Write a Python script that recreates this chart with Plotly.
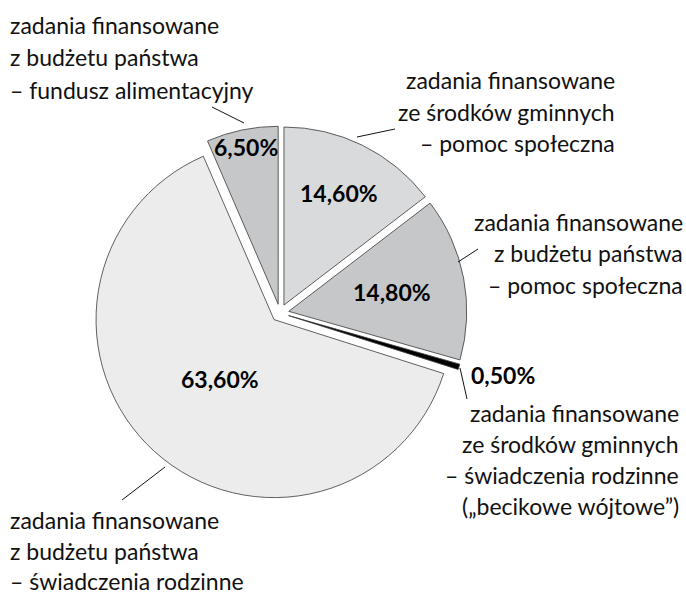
import math
import plotly.graph_objects as go

# ---- data ----
shares = [14.6, 14.8, 0.5, 63.6, 6.5]
pct_labels = ["14,60%", "14,80%", "0,50%", "63,60%", "6,50%"]
categories = [
    ["zadania finansowane", "ze środków gminnych", "– pomoc społeczna"],
    ["zadania finansowane", "z budżetu państwa", "– pomoc społeczna"],
    ["zadania finansowane", "ze środków gminnych", "– świadczenia rodzinne", "(„becikowe wójtowe”)"],
    ["zadania finansowane", "z budżetu państwa", "– świadczenia rodzinne"],
    ["zadania finansowane", "z budżetu państwa", "– fundusz alimentacyjny"],
]

# ---- style / layout ----
W, H = 686, 594
CX, CY, R = 280, 313, 178
PULL = 0.05
colors = ["#d9dadb", "#c6c7c9", "#000000", "#ebeceb", "#c6c7c9"]
FONT = "Lato"
LBL_SIZE = 23
PCT_SIZE = 23

half = R * (1 + PULL)
dom_x = [(CX - half) / W, (CX + half) / W]
dom_y = [1 - (CY + half) / H, 1 - (CY - half) / H]

def px(x, y):
    return x / W, 1 - y / H

fig = go.Figure(go.Pie(
    values=shares,
    labels=[" ".join(c) for c in categories],
    sort=False,
    direction="clockwise",
    rotation=0,
    pull=[PULL] * len(shares),
    marker=dict(colors=colors, line=dict(color="#3a3a3a", width=0.8)),
    textinfo="none",
    hoverinfo="label+percent",
    domain=dict(x=dom_x, y=dom_y),
    showlegend=False,
))

annotations = []
# percentage labels placed along each slice's mid-angle
radial_f = [0.75, 0.64, 1.11, 0.50, 0.95]
anchors = ["center", "center", "left", "center", "center"]
total = sum(shares)
acc = 0
for v, t, f, a in zip(shares, pct_labels, radial_f, anchors):
    mid = (acc + v / 2) / total * 2 * math.pi
    acc += v
    x = CX + f * R * math.sin(mid)
    y = CY - f * R * math.cos(mid)
    if a == "left":
        y += 5
    xx, yy = px(x, y)
    annotations.append(dict(x=xx, y=yy, xref="paper", yref="paper", text=f"<b>{t}</b>",
                            showarrow=False, xanchor=a, yanchor="middle",
                            font=dict(family=FONT, size=PCT_SIZE, color="#000000")))

# category labels (x, first line y, anchor, line step)
label_pos = [
    (617, 80, "right", 31.5),
    (685, 222, "right", 31.5),
    (681, 413, "right", 31.0),
    (8, 520, "left", 30.5),
    (8, 25, "left", 32.5),
]
for lines, (lx, ly, anc, step) in zip(categories, label_pos):
    for i, line in enumerate(lines):
        xx, yy = px(lx, ly + i * step)
        annotations.append(dict(x=xx, y=yy, xref="paper", yref="paper", text=line,
                                showarrow=False, xanchor=anc, yanchor="middle",
                                font=dict(family=FONT, size=LBL_SIZE, color="#111111")))

# leader lines
leaders = [
    ((357, 137), (395, 129)),
    ((458, 262), (478, 249)),
    ((460, 368), (467, 399)),
    ((122, 500), (165, 467)),
    ((212, 107), (244, 123)),
]
shapes = []
for (x0, y0), (x1, y1) in leaders:
    a0, b0 = px(x0, y0)
    a1, b1 = px(x1, y1)
    shapes.append(dict(type="line", xref="paper", yref="paper", x0=a0, y0=b0, x1=a1, y1=b1,
                       line=dict(color="#111111", width=1)))

fig.update_layout(
    width=W, height=H,
    margin=dict(l=0, r=0, t=0, b=0),
    paper_bgcolor="white",
    plot_bgcolor="white",
    annotations=annotations,
    shapes=shapes,
    font=dict(family=FONT),
)

fig.write_html(
    "out.html",
    config={"displayModeBar": False},
    post_script="document.body.style.margin='0';document.body.style.overflow='hidden';",
)
